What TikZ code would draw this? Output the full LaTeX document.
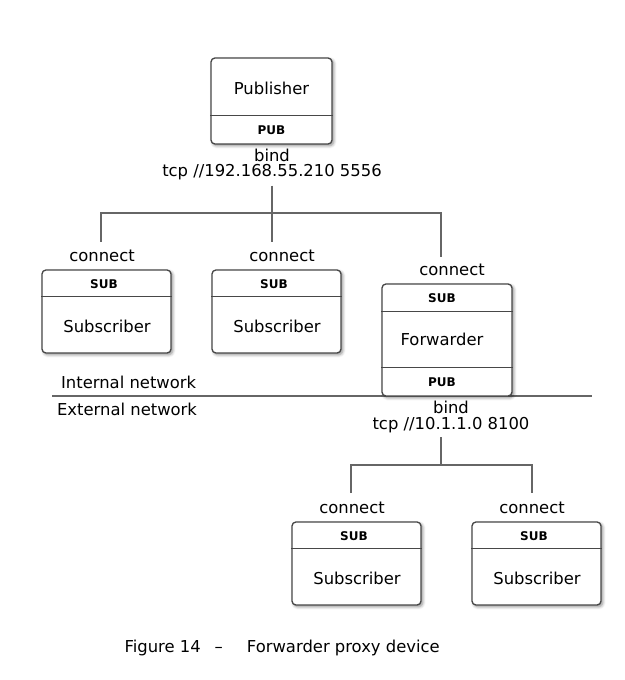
\documentclass[tikz,border=0pt]{standalone}
\usepackage{fontspec}
\setmainfont{DejaVu Sans}
\usepackage{tikz}
\usetikzlibrary{shadows.blur}
\definecolor{boxgray}{HTML}{474747}
\definecolor{wiregray}{HTML}{666666}
\tikzset{
  box/.style={draw=boxgray, line width=1pt, fill=white, rounded corners=3pt, inner sep=0pt,
    blur shadow={shadow xshift=1.3pt, shadow yshift=-1.3pt, shadow blur steps=6, shadow opacity=45}},
  divider/.style={draw=boxgray, line width=1pt},
  txt/.style={font=\fontsize{12.3}{14}\selectfont, inner sep=1pt},
  port/.style={font=\bfseries\fontsize{9}{11}\selectfont, inner sep=1pt},
  addr/.style={font=\fontsize{12.3}{11.3}\selectfont, align=center, inner sep=1pt},
  wire/.style={draw=wiregray, line width=0.9pt},
}

\begin{document}
\begin{tikzpicture}[x=0.75pt,y=-0.75pt]
\useasboundingbox (0,0) rectangle (624,680);

% network border
\coordinate (netw) at (52,396);
\coordinate (nete) at (592,396);
\draw[wire] (netw) -- (nete);
\node[txt, anchor=west] (internal) at (59.5,382) {Internal network};
\node[txt, anchor=west] (external) at (55.5,409) {External network};

% publisher
\node[box, minimum width=90.75pt, minimum height=64.5pt] (pub) at (271.5,101) {};
\draw[divider] ([yshift=-43.5pt]pub.north west) -- ([yshift=-43.5pt]pub.north east);
\node[txt] (pubname) at (271.5,88) {Publisher};
\node[port] (pubport) at (271.5,130) {PUB};
\node[addr] (pubbind) at (272,164.5) {bind\\tcp //192.168.55.210 5556};

% first subscribers
\node[box, minimum width=96.75pt, minimum height=62.25pt] (sub1) at (106.5,311.5) {};
\draw[divider] ([yshift=-20.25pt]sub1.north west) -- ([yshift=-20.25pt]sub1.north east);
\node[port] (sub1port) at (104,284) {SUB};
\node[txt] (sub1name) at (107,326) {Subscriber};

\node[box, minimum width=96.75pt, minimum height=62.25pt] (sub2) at (276.5,311.5) {};
\draw[divider] ([yshift=-20.25pt]sub2.north west) -- ([yshift=-20.25pt]sub2.north east);
\node[port] (sub2port) at (274,284) {SUB};
\node[txt] (sub2name) at (277,326) {Subscriber};

% forwarder
\node[box, minimum width=97.5pt, minimum height=84pt] (fwd) at (447,340) {};
\draw[divider] ([yshift=-21pt]fwd.north west) -- ([yshift=-21pt]fwd.north east);
\draw[divider] ([yshift=-63pt]fwd.north west) -- ([yshift=-63pt]fwd.north east);
\node[port] (fwdsub) at (442,298) {SUB};
\node[txt] (fwdname) at (442,339) {Forwarder};
\node[port] (fwdpub) at (442,382) {PUB};
\node[addr] (fwdbind) at (451,417) {bind\\tcp //10.1.1.0 8100};

% second subscribers
\node[box, minimum width=96.75pt, minimum height=62.25pt] (sub3) at (356.5,563.5) {};
\draw[divider] ([yshift=-20.25pt]sub3.north west) -- ([yshift=-20.25pt]sub3.north east);
\node[port] (sub3port) at (354,536) {SUB};
\node[txt] (sub3name) at (357,578) {Subscriber};

\node[box, minimum width=96.75pt, minimum height=62.25pt] (sub4) at (536.5,563.5) {};
\draw[divider] ([yshift=-20.25pt]sub4.north west) -- ([yshift=-20.25pt]sub4.north east);
\node[port] (sub4port) at (534,536) {SUB};
\node[txt] (sub4name) at (537,578) {Subscriber};

% connect labels
\node[txt] (conn1) at (102,256) {connect};
\node[txt] (conn2) at (282,256) {connect};
\node[txt] (conn3) at (452,270) {connect};
\node[txt] (conn4) at (352,508) {connect};
\node[txt] (conn5) at (532,508) {connect};

% wires from publisher
\coordinate (bus1) at (272,213);
\coordinate (drop1) at (101,242);
\coordinate (drop2) at (272,242);
\coordinate (drop3) at (441,257);
\draw[wire, shorten <=3pt] (pubbind.south) -- (drop2);
\draw[wire] (drop1) -- (drop1 |- bus1) -- (drop3 |- bus1) -- (drop3);

% wires from forwarder
\coordinate (top2) at (441,437);
\coordinate (bus2) at (441,465);
\coordinate (drop4) at (351,493);
\coordinate (drop5) at (532,493);
\draw[wire] (top2) -- (bus2);
\draw[wire] (drop4) -- (drop4 |- bus2) -- (drop5 |- bus2) -- (drop5);

% caption
\node[txt, anchor=west] (caption) at (123,648) {Figure 14\hspace{10.5pt}–\hspace{18pt}Forwarder proxy device};
\end{tikzpicture}
\end{document}
